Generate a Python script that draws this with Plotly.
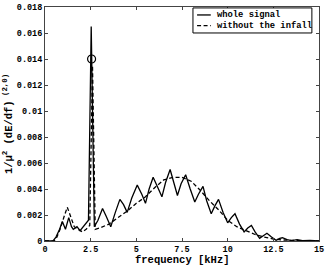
import plotly.graph_objects as go

freq_whole = [0, 0.2, 0.45, 0.6, 0.8, 0.95, 1.05, 1.12, 1.3, 1.45, 1.55, 1.75, 1.92, 2.1, 2.3, 2.38,
              2.53, 2.70, 2.9, 3.15, 3.35, 3.6, 3.85, 4.1, 4.3, 4.5, 4.75, 5.05, 5.3, 5.5, 5.7, 5.92,
              6.15, 6.4, 6.6, 6.85, 7.05, 7.25, 7.45, 7.7, 7.95, 8.2, 8.4, 8.65, 8.85, 9.1, 9.3, 9.5,
              9.75, 10.0, 10.2, 10.4, 10.65, 10.9, 11.1, 11.3, 11.5, 11.75, 11.95, 12.15, 12.4, 12.65,
              12.85, 13.0, 13.25, 13.5, 13.8, 14.1, 14.5, 15.0]
val_whole = [0, 0, 0.00002, 0.0003, 0.0009, 0.0015, 0.0011, 0.0009, 0.0018, 0.0011, 0.0009, 0.0011,
             0.0008, 0.0011, 0.0014, 0.0016, 0.0165, 0.0011, 0.0016, 0.0025, 0.0019, 0.0011, 0.0022,
             0.0032, 0.0028, 0.0022, 0.0033, 0.0043, 0.0036, 0.0029, 0.0040, 0.0049, 0.0042, 0.0034,
             0.0045, 0.0055, 0.0045, 0.0035, 0.0044, 0.0051, 0.0040, 0.0030, 0.0036, 0.0042, 0.0031,
             0.0021, 0.0027, 0.0032, 0.0022, 0.0014, 0.0018, 0.0021, 0.0013, 0.0007, 0.0010, 0.0012,
             0.0007, 0.0002, 0.0004, 0.0006, 0.0003, 0.00005, 0.0002, 0.00025, 0.0001, 0.00003,
             0.0001, 0.00002, 0.00005, 0.0]

freq_noinfall = [0, 0.5, 0.65, 0.85, 1.05, 1.22, 1.4, 1.6, 1.8, 2.05, 2.25, 2.45, 2.6, 2.75, 3.0, 3.5,
                 4.0, 4.5, 5.0, 5.5, 6.0, 6.5, 7.0, 7.5, 8.0, 8.5, 9.0, 9.5, 10.0, 10.5, 11.0, 11.5,
                 12.0, 12.5, 13.0, 13.5, 14.0, 15.0]
val_noinfall = [0, 0, 0.0003, 0.0010, 0.0019, 0.0026, 0.0019, 0.0011, 0.0009, 0.0007, 0.0009, 0.0012,
                0.0135, 0.0009, 0.0010, 0.0013, 0.0018, 0.0023, 0.0029, 0.0034, 0.0041, 0.0047, 0.0049,
                0.0049, 0.0046, 0.0039, 0.0031, 0.0024, 0.0016, 0.0011, 0.0008, 0.0005, 0.0003,
                0.00015, 0.00008, 0.00004, 0.00002, 0]

marker_f = [2.55]
marker_v = [0.014]

series_names = ["whole signal", "without the infall"]

x_ticks = [0, 2.5, 5, 7.5, 10, 12.5, 15]
x_ticktext = ["0", "2.5", "5", "7.5", "10", "12.5", "15"]
y_ticks = [0, 0.002, 0.004, 0.006, 0.008, 0.010, 0.012, 0.014, 0.016, 0.018]
y_ticktext = ["0", "0.002", "0.004", "0.006", "0.008", "0.01", "0.012", "0.014", "0.016", "0.018"]

FONT = "Liberation Mono"
DASH = "4px,2.5px"

fig = go.Figure()
fig.add_trace(go.Scatter(x=freq_whole, y=val_whole, mode="lines", name=series_names[0],
                         showlegend=False, line=dict(color="black", width=1.3)))
fig.add_trace(go.Scatter(x=freq_noinfall, y=val_noinfall, mode="lines", name=series_names[1],
                         showlegend=False, line=dict(color="black", width=1.3, dash=DASH)))
fig.add_trace(go.Scatter(x=marker_f, y=marker_v, mode="markers", showlegend=False,
                         marker=dict(symbol="circle-open", size=8, color="black",
                                     line=dict(width=1.2, color="black"))))

# compact legend box (paper coordinates)
lx0, lx1, ly0, ly1 = 0.540, 0.974, 0.889, 0.996
fig.add_shape(type="rect", xref="paper", yref="paper", x0=lx0, x1=lx1, y0=ly0, y1=ly1,
              line=dict(color="black", width=1), fillcolor="white", layer="above")
entry_y = [0.966, 0.920]
entry_dash = ["solid", DASH]
for name, yy, dd in zip(series_names, entry_y, entry_dash):
    fig.add_shape(type="line", xref="paper", yref="paper", x0=0.555, x1=0.605, y0=yy, y1=yy,
                  line=dict(color="black", width=1.3, dash=dd), layer="above")
    fig.add_annotation(xref="paper", yref="paper", x=0.620, y=yy, text=name, showarrow=False,
                       xanchor="left", yanchor="middle",
                       font=dict(family=FONT, size=8.8, color="black", weight="bold"))

# x-axis title
fig.add_annotation(xref="paper", yref="paper", x=0.5, y=-0.082, text="frequency [kHz]",
                   showarrow=False, xanchor="center", yanchor="middle",
                   font=dict(family=FONT, size=10.5, color="black", weight="bold"))

axis_common = dict(showgrid=False, zeroline=False, showline=True, linecolor="#444", linewidth=1,
                   mirror="ticks", ticks="inside", ticklen=3, tickcolor="#444",
                   tickfont=dict(family=FONT, size=8.5, color="black", weight="bold"))

fig.update_layout(
    width=327, height=267,
    margin=dict(l=45, r=8, t=7, b=26, autoexpand=False),
    paper_bgcolor="white", plot_bgcolor="white",
    xaxis=dict(range=[0, 15], tickvals=x_ticks, ticktext=x_ticktext, automargin=False,
               **axis_common),
    yaxis=dict(range=[0, 0.018], tickvals=y_ticks, ticktext=y_ticktext, automargin=False,
               title=dict(text="1/\u03bc<sup>2</sup> (dE/df)<sup> (2,0)</sup>", standoff=2,
                          font=dict(family=FONT, size=10.5, color="black", weight="bold")),
               **axis_common),
    showlegend=False,
)

fig.write_html("out.html", config={"displayModeBar": False},
               post_script="document.body.style.margin='0';document.body.style.padding='0';")
